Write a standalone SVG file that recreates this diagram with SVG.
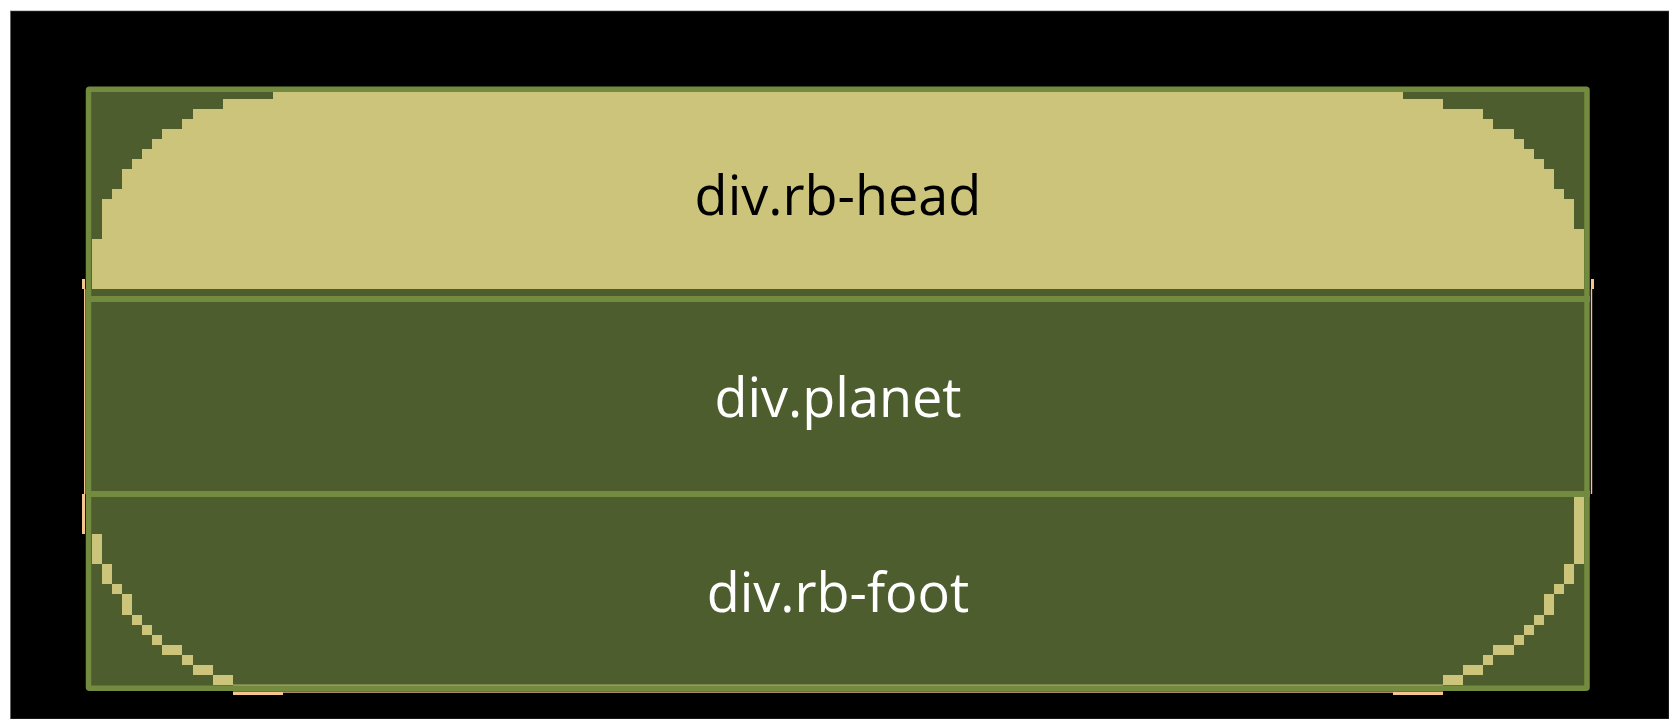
<svg xmlns="http://www.w3.org/2000/svg" width="1669" height="719" viewBox="0 0 1669 719">
<style>
.lbl{font-family:"Open Sans","Noto Sans",sans-serif;font-size:54px;text-anchor:middle}
.tan{fill:#cdc47b}
.peach{fill:#f6c58f}
.line{fill:#738b3f}
</style>
<rect x="0" y="0" width="1669" height="719" fill="#ffffff"/>
<rect x="10.5" y="11" width="1658.5" height="708" fill="#000000" stroke="#555" stroke-width="0.6"/>
<g id="container">
<rect x="88.5" y="89.2" width="1498.5" height="599" fill="#4d5d2d"/>
</g>
<g id="rb-head">
<path class="tan" d="M273,92 H1403 V99 H1443 V109 H1483 V119 H1493 V129 H1514 V139 H1524 V149 H1534 V159 H1544 V169 H1554 V189 H1564 V199 H1574 V229 H1584 V289 H92 V239 H102 V199 H112 V189 H122 V169 H132 V159 H142 V149 H152 V139 H162 V129 H182 V119 H193 V109 H223 V99 H273 Z"/>
<text class="lbl" x="838" y="215" fill="#000000">div.rb-head</text>
</g>
<g id="planet">
<rect class="line" x="86" y="296" width="1504" height="6"/>
<rect class="line" x="86" y="491" width="1504" height="6"/>
<text class="lbl" x="838" y="416.5" fill="#ffffff">div.planet</text>
</g>
<g id="rb-foot">
<g class="tan">
<rect x="92" y="534" width="10" height="30"/>
<rect x="102" y="564" width="10" height="20"/>
<rect x="112" y="584" width="10" height="10"/>
<rect x="122" y="594" width="10" height="21"/>
<rect x="132" y="615" width="10" height="10"/>
<rect x="142" y="625" width="10" height="10"/>
<rect x="152" y="635" width="10" height="10"/>
<rect x="162" y="645" width="20" height="10"/>
<rect x="182" y="655" width="11" height="10"/>
<rect x="193" y="665" width="20" height="10"/>
<rect x="213" y="675" width="20" height="10"/>
<rect x="1574" y="497" width="10" height="67"/>
<rect x="1564" y="564" width="10" height="20"/>
<rect x="1554" y="584" width="10" height="10"/>
<rect x="1544" y="594" width="10" height="21"/>
<rect x="1534" y="615" width="10" height="10"/>
<rect x="1524" y="625" width="10" height="10"/>
<rect x="1514" y="635" width="10" height="10"/>
<rect x="1493" y="645" width="21" height="10"/>
<rect x="1483" y="655" width="10" height="10"/>
<rect x="1463" y="665" width="20" height="10"/>
<rect x="1443" y="675" width="20" height="10"/>
<rect x="233" y="684.6" width="1210" height="1.2"/>
</g>
<text class="lbl" x="838" y="611.5" fill="#ffffff">div.rb-foot</text>
</g>
<g id="outline">
<rect x="88.5" y="89.2" width="1498.5" height="599" fill="none" stroke="#738b3f" stroke-width="5.5" rx="1"/>
<g class="peach">
<rect x="82" y="279" width="3" height="10"/>
<rect x="84" y="289" width="1.4" height="205"/>
<rect x="82" y="494" width="3" height="40"/>
<rect x="1591" y="279" width="3" height="10"/>
<rect x="1590.8" y="289" width="1.4" height="205"/>
<rect x="233" y="691.5" width="50" height="3.5"/>
<rect x="1393" y="691.5" width="50" height="3.5"/>
<rect x="283" y="691.5" width="1110" height="1.2"/>
</g>
</g>
</svg>
